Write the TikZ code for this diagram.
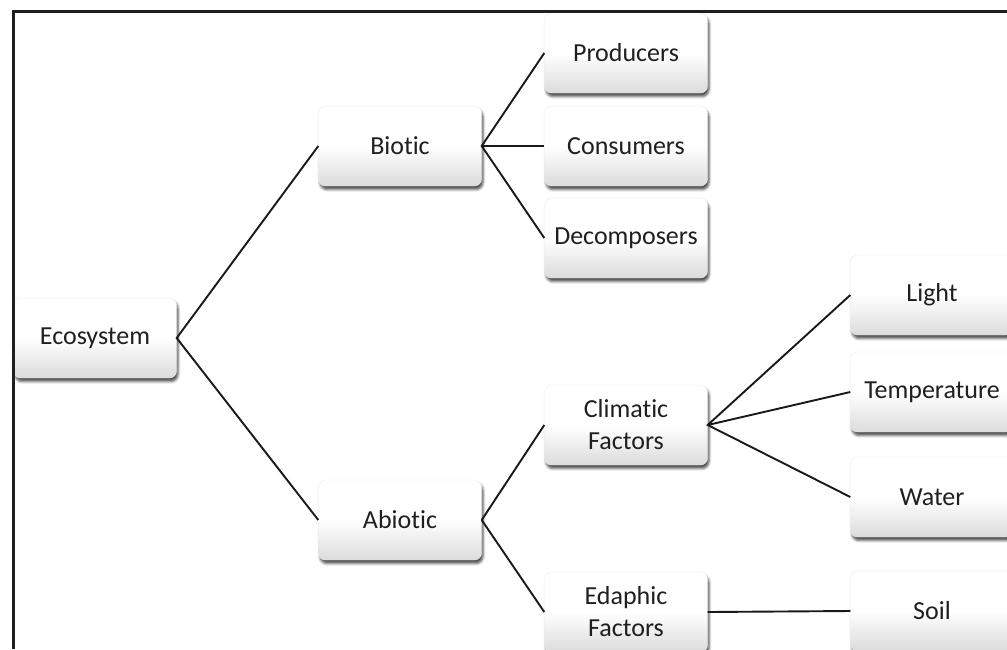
\documentclass[tikz,border=0pt]{standalone}
\usepackage{fontspec}
\setmainfont[Ligatures=NoCommon]{Carlito}
\usetikzlibrary{shadows.blur}
\begin{document}
\begin{tikzpicture}[x=1pt,y=1pt,
  box/.style={rectangle, rounded corners=7pt, minimum width=163pt, minimum height=80pt,
    inner sep=2pt, align=center, font=\fontsize{26}{32}\selectfont, text=black!88,
    top color=white, bottom color=black!14, middle color=white, draw=black!8,
    blur shadow={shadow xshift=1.5pt, shadow yshift=-3.5pt, shadow blur radius=2.5pt, shadow opacity=70}},
  link/.style={line width=1.9pt, black!90},
  frame/.style={line width=3pt, black!88}]
\useasboundingbox (0,0) rectangle (1007,-649);
\clip (0,0) rectangle (1007,-649);
\node[box] (eco) at (95,-338) {Ecosystem};
\node[box] (bio) at (400,-146) {Biotic};
\node[box] (abio) at (400,-520) {Abiotic};
\node[box] (prod) at (626,-53) {Producers};
\node[box] (cons) at (626,-146) {Consumers};
\node[box] (deco) at (626,-238) {Decomposers};
\node[box] (clim) at (626,-425) {Climatic\\Factors};
\node[box] (edap) at (626,-612) {Edaphic\\Factors};
\node[box] (light) at (932,-295) {Light};
\node[box] (temp) at (932,-392) {Temperature};
\node[box] (water) at (932,-497) {Water};
\node[box] (soil) at (932,-611) {Soil};
\draw[link] (bio.west) -- (eco.east) -- (abio.west);
\draw[link] (prod.west) -- (bio.east) -- (deco.west);
\draw[link] (bio.east) -- (cons.west);
\draw[link] (abio.east) -- (clim.west);
\draw[link] (abio.east) -- (edap.west);
\draw[link] (light.west) -- (clim.east) -- (water.west);
\draw[link] (clim.east) -- (temp.west);
\draw[link] (edap.east) -- (soil.west);
\draw[frame] (13,-649) -- (13,-11.5) -- (1007,-11.5);
\end{tikzpicture}
\end{document}
